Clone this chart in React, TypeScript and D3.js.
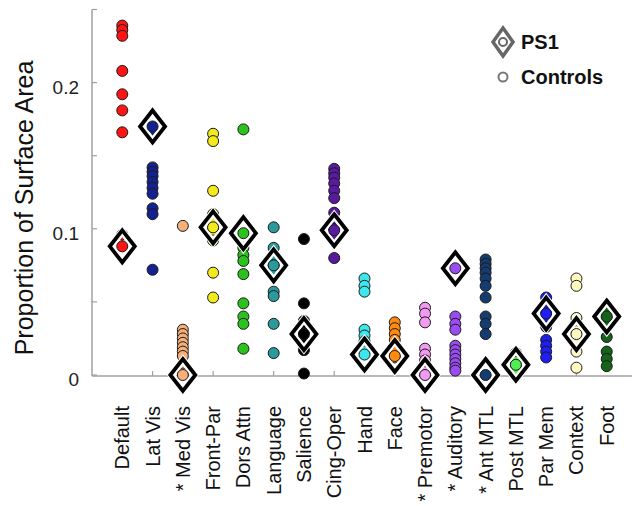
import React, { useEffect, useRef } from 'react';
import * as d3 from 'd3';

const categories = [
  'Default', 'Lat Vis', '* Med Vis', 'Front-Par', 'Dors Attn', 'Language', 'Salience',
  'Cing-Oper', 'Hand', 'Face', '* Premotor', '* Auditory', '* Ant MTL', 'Post MTL',
  'Par Mem', 'Context', 'Foot'
];

const colors = [
  '#ff1414', '#14228f', '#f7b07a', '#f2ea1c', '#2bc21e', '#2a9a9c', '#000000',
  '#5a1aa0', '#3ee6ee', '#ff8a10', '#f29af0', '#9a4cf2', '#143c70', '#50ee50',
  '#1e1ef0', '#fdf7c0', '#16621a'
];

// PS1 value per network
const ps1 = [
  0.088, 0.170, 0.0, 0.101, 0.097, 0.075, 0.028, 0.099, 0.014, 0.013,
  0.0, 0.073, 0.0, 0.007, 0.042, 0.028, 0.040
];

// control subjects per network
const controls = [
  [0.239, 0.236, 0.232, 0.208, 0.192, 0.181, 0.166, 0.096],
  [0.142, 0.139, 0.136, 0.132, 0.128, 0.124, 0.114, 0.110, 0.072, 0.166],
  [0.102, 0.031, 0.028, 0.025, 0.022, 0.019, 0.016, 0.013, 0.004, 0.001],
  [0.165, 0.160, 0.126, 0.110, 0.105, 0.100, 0.096, 0.092, 0.070, 0.053],
  [0.168, 0.087, 0.082, 0.078, 0.069, 0.049, 0.040, 0.035, 0.018],
  [0.101, 0.087, 0.079, 0.075, 0.071, 0.057, 0.054, 0.035, 0.015],
  [0.093, 0.049, 0.037, 0.033, 0.029, 0.025, 0.021, 0.017, 0.001],
  [0.141, 0.138, 0.135, 0.131, 0.126, 0.121, 0.111, 0.105, 0.100, 0.095, 0.080],
  [0.066, 0.061, 0.057, 0.031, 0.027, 0.023, 0.019, 0.016],
  [0.036, 0.032, 0.028, 0.024, 0.020, 0.016, 0.012],
  [0.046, 0.042, 0.036, 0.018, 0.014, 0.010, 0.006, 0.002],
  [0.040, 0.035, 0.031, 0.020, 0.017, 0.014, 0.011, 0.008, 0.005, 0.003],
  [0.079, 0.076, 0.073, 0.070, 0.066, 0.061, 0.053, 0.040, 0.035, 0.028],
  [0.015, 0.012, 0.009, 0.006, 0.004, 0.002],
  [0.053, 0.049, 0.043, 0.038, 0.033, 0.024, 0.020, 0.016, 0.012],
  [0.066, 0.061, 0.039, 0.034, 0.030, 0.025, 0.016, 0.005],
  [0.043, 0.039, 0.035, 0.026, 0.016, 0.011, 0.006]
];

const yTicks = [0, 0.05, 0.1, 0.15, 0.2, 0.25];
const yLabels = ['0', '', '0.1', '', '0.2', ''];

const App = () => {
  const ref = useRef<SVGSVGElement>(null);

  useEffect(() => {
    const svg = d3.select(ref.current);
    svg.selectAll('*').remove();

    const font = '"Liberation Sans", Arial, sans-serif';
    const axisColor = '#a0a0a0';

    const x = d3.scaleLinear().domain([0, 18]).range([92, 637]);
    const y = d3.scaleLinear().domain([0, 0.25]).range([375, 9.5]);

    // axes
    svg.append('line')
      .attr('x1', x(0)).attr('x2', x(0))
      .attr('y1', y(0.25)).attr('y2', y(0) + 1)
      .attr('stroke', axisColor).attr('stroke-width', 1.5);
    svg.append('line')
      .attr('x1', x(0)).attr('x2', 632)
      .attr('y1', y(0) + 1).attr('y2', y(0) + 1)
      .attr('stroke', axisColor).attr('stroke-width', 1.5);

    svg.selectAll('.ytick')
      .data(yTicks)
      .enter().append('line')
      .attr('x1', x(0)).attr('x2', x(0) + 5)
      .attr('y1', d => y(d)).attr('y2', d => y(d))
      .attr('stroke', axisColor).attr('stroke-width', 1.2);

    svg.selectAll('.ylab')
      .data(yTicks)
      .enter().append('text')
      .attr('x', 79)
      .attr('y', d => y(d) + 11)
      .attr('text-anchor', 'end')
      .style('font-family', font)
      .style('font-size', '19px')
      .attr('fill', '#222')
      .text((d, i) => yLabels[i]);

    const xTicks = d3.range(2, 17, 2);
    svg.selectAll('.xtick')
      .data(xTicks)
      .enter().append('line')
      .attr('x1', d => x(d)).attr('x2', d => x(d))
      .attr('y1', y(0) + 1).attr('y2', y(0) - 4)
      .attr('stroke', axisColor).attr('stroke-width', 1.2);

    // category labels
    svg.selectAll('.xlab')
      .data(categories)
      .enter().append('text')
      .attr('transform', (d, i) => `translate(${x(i + 1) + 7},406) rotate(-90)`)
      .attr('text-anchor', 'end')
      .style('font-family', font)
      .style('font-size', '20px')
      .attr('fill', '#111')
      .text(d => d);

    // y axis title
    svg.append('text')
      .attr('transform', 'translate(33,208) rotate(-90)')
      .attr('text-anchor', 'middle')
      .style('font-family', font)
      .style('font-size', '25px')
      .attr('fill', '#111')
      .text('Proportion of Surface Area');

    const dotR = 5.5;

    // controls
    categories.forEach((c, i) => {
      svg.append('g')
        .selectAll('circle')
        .data(controls[i])
        .enter().append('circle')
        .attr('cx', x(i + 1))
        .attr('cy', d => y(d))
        .attr('r', dotR)
        .attr('fill', colors[i])
        .attr('stroke', '#1a1a1a')
        .attr('stroke-width', 1);
    });

    const diamond = (cx: number, cy: number, hw: number, hh: number) =>
      `M${cx},${cy - hh}L${cx + hw},${cy}L${cx},${cy + hh}L${cx - hw},${cy}Z`;

    // PS1 markers
    ps1.forEach((v, i) => {
      const cx = x(i + 1), cy = y(v);
      svg.append('path')
        .attr('d', diamond(cx, cy, 11.5, 15))
        .attr('fill', 'none')
        .attr('stroke', '#fff')
        .attr('stroke-width', 7);
      svg.append('path')
        .attr('d', diamond(cx, cy, 12.5, 16))
        .attr('fill', 'none')
        .attr('stroke', '#000')
        .attr('stroke-width', 3.8);
      svg.append('circle')
        .attr('cx', cx).attr('cy', cy)
        .attr('r', dotR)
        .attr('fill', colors[i])
        .attr('stroke', '#1a1a1a')
        .attr('stroke-width', 1);
    });

    // legend
    svg.append('path')
      .attr('d', diamond(503, 42, 10, 14))
      .attr('fill', 'none')
      .attr('stroke', '#666')
      .attr('stroke-width', 3.5);
    svg.append('circle')
      .attr('cx', 503).attr('cy', 42).attr('r', 4)
      .attr('fill', '#fff').attr('stroke', '#666').attr('stroke-width', 2);
    svg.append('text')
      .attr('x', 521).attr('y', 49)
      .style('font-family', font)
      .style('font-size', '20px')
      .style('font-weight', 'bold')
      .attr('fill', '#111')
      .text('PS1');

    svg.append('circle')
      .attr('cx', 503).attr('cy', 77).attr('r', 4.5)
      .attr('fill', '#fff').attr('stroke', '#777').attr('stroke-width', 2);
    svg.append('text')
      .attr('x', 521).attr('y', 84)
      .style('font-family', font)
      .style('font-size', '20px')
      .style('font-weight', 'bold')
      .attr('fill', '#111')
      .text('Controls');
  }, []);

  return (
    <svg
      ref={ref}
      width={636}
      height={506}
      style={{ position: 'absolute', left: 0, top: 0, background: '#fff' }}
    />
  );
};

export default App;
